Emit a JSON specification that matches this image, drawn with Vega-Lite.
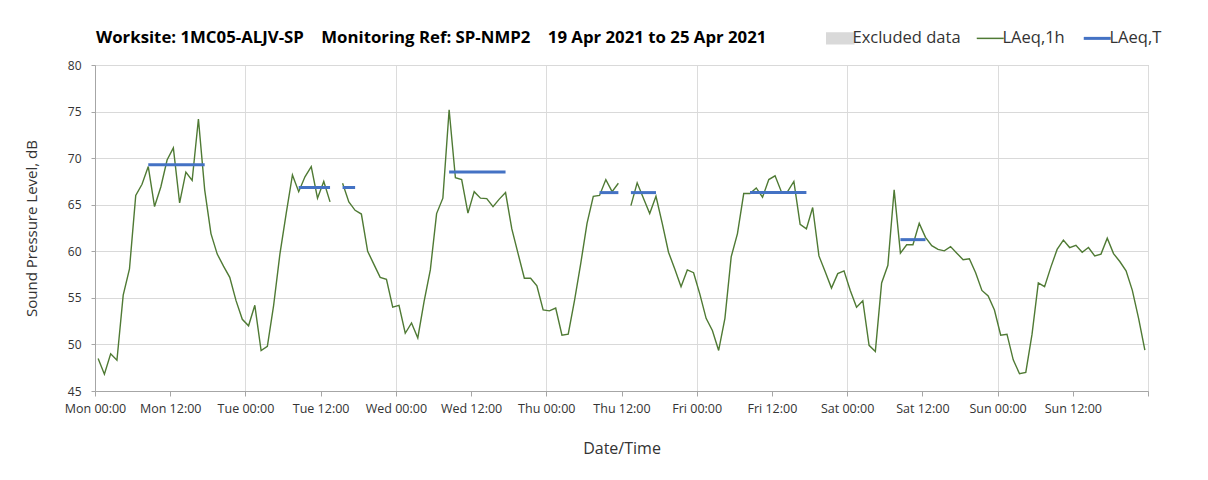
{
  "$schema": "https://vega.github.io/schema/vega-lite/v6.json",
  "autosize": "none",
  "width": 1053,
  "height": 326,
  "padding": {"left": 95, "top": 65, "right": 60, "bottom": 89},
  "background": "white",
  "config": {
    "font": "Open Sans",
    "view": {"stroke": "#bfbfbf", "strokeWidth": 1},
    "axis": {"labelFont": "Open Sans", "titleFont": "Open Sans", "labelColor": "#333333", "titleColor": "#333333", "titleFontWeight": "normal"}
  },
  "title": {
    "text": "Worksite: 1MC05-ALJV-SP\u00a0\u00a0\u00a0 Monitoring Ref: SP-NMP2\u00a0\u00a0\u00a0 19 Apr 2021 to 25 Apr 2021",
    "anchor": "start",
    "frame": "group",
    "offset": 0,
    "baseline": "alphabetic",
    "dy": 30,
    "dx": 1,
    "font": "Open Sans",
    "fontSize": 16.8,
    "fontWeight": "bold",
    "color": "#000000"
  },
  "datasets": {
    "lh": [
      {"t":"2021-04-19T00:30:00","v":48.5,"g":1,"s":"LAeq,1h"},
      {"t":"2021-04-19T01:30:00","v":46.8,"g":1,"s":"LAeq,1h"},
      {"t":"2021-04-19T02:30:00","v":49.0,"g":1,"s":"LAeq,1h"},
      {"t":"2021-04-19T03:30:00","v":48.3,"g":1,"s":"LAeq,1h"},
      {"t":"2021-04-19T04:30:00","v":55.3,"g":1,"s":"LAeq,1h"},
      {"t":"2021-04-19T05:30:00","v":58.1,"g":1,"s":"LAeq,1h"},
      {"t":"2021-04-19T06:30:00","v":66.0,"g":1,"s":"LAeq,1h"},
      {"t":"2021-04-19T07:30:00","v":67.2,"g":1,"s":"LAeq,1h"},
      {"t":"2021-04-19T08:30:00","v":69.1,"g":1,"s":"LAeq,1h"},
      {"t":"2021-04-19T09:30:00","v":64.8,"g":1,"s":"LAeq,1h"},
      {"t":"2021-04-19T10:30:00","v":66.9,"g":1,"s":"LAeq,1h"},
      {"t":"2021-04-19T11:30:00","v":69.8,"g":1,"s":"LAeq,1h"},
      {"t":"2021-04-19T12:30:00","v":71.1,"g":1,"s":"LAeq,1h"},
      {"t":"2021-04-19T13:30:00","v":65.2,"g":1,"s":"LAeq,1h"},
      {"t":"2021-04-19T14:30:00","v":68.5,"g":1,"s":"LAeq,1h"},
      {"t":"2021-04-19T15:30:00","v":67.6,"g":1,"s":"LAeq,1h"},
      {"t":"2021-04-19T16:30:00","v":74.2,"g":1,"s":"LAeq,1h"},
      {"t":"2021-04-19T17:30:00","v":66.6,"g":1,"s":"LAeq,1h"},
      {"t":"2021-04-19T18:30:00","v":61.9,"g":1,"s":"LAeq,1h"},
      {"t":"2021-04-19T19:30:00","v":59.7,"g":1,"s":"LAeq,1h"},
      {"t":"2021-04-19T20:30:00","v":58.4,"g":1,"s":"LAeq,1h"},
      {"t":"2021-04-19T21:30:00","v":57.2,"g":1,"s":"LAeq,1h"},
      {"t":"2021-04-19T22:30:00","v":54.7,"g":1,"s":"LAeq,1h"},
      {"t":"2021-04-19T23:30:00","v":52.7,"g":1,"s":"LAeq,1h"},
      {"t":"2021-04-20T00:30:00","v":52.0,"g":1,"s":"LAeq,1h"},
      {"t":"2021-04-20T01:30:00","v":54.2,"g":1,"s":"LAeq,1h"},
      {"t":"2021-04-20T02:30:00","v":49.35,"g":1,"s":"LAeq,1h"},
      {"t":"2021-04-20T03:30:00","v":49.8,"g":1,"s":"LAeq,1h"},
      {"t":"2021-04-20T04:30:00","v":54.2,"g":1,"s":"LAeq,1h"},
      {"t":"2021-04-20T05:30:00","v":59.7,"g":1,"s":"LAeq,1h"},
      {"t":"2021-04-20T06:30:00","v":64.05,"g":1,"s":"LAeq,1h"},
      {"t":"2021-04-20T07:30:00","v":68.2,"g":1,"s":"LAeq,1h"},
      {"t":"2021-04-20T08:30:00","v":66.4,"g":1,"s":"LAeq,1h"},
      {"t":"2021-04-20T09:30:00","v":68.0,"g":1,"s":"LAeq,1h"},
      {"t":"2021-04-20T10:30:00","v":69.1,"g":1,"s":"LAeq,1h"},
      {"t":"2021-04-20T11:30:00","v":65.7,"g":1,"s":"LAeq,1h"},
      {"t":"2021-04-20T12:30:00","v":67.5,"g":1,"s":"LAeq,1h"},
      {"t":"2021-04-20T13:30:00","v":65.3,"g":1,"s":"LAeq,1h"},
      {"t":"2021-04-20T15:30:00","v":67.3,"g":2,"s":"LAeq,1h"},
      {"t":"2021-04-20T16:30:00","v":65.3,"g":2,"s":"LAeq,1h"},
      {"t":"2021-04-20T17:30:00","v":64.4,"g":2,"s":"LAeq,1h"},
      {"t":"2021-04-20T18:30:00","v":64.0,"g":2,"s":"LAeq,1h"},
      {"t":"2021-04-20T19:30:00","v":60.0,"g":2,"s":"LAeq,1h"},
      {"t":"2021-04-20T20:30:00","v":58.6,"g":2,"s":"LAeq,1h"},
      {"t":"2021-04-20T21:30:00","v":57.2,"g":2,"s":"LAeq,1h"},
      {"t":"2021-04-20T22:30:00","v":57.0,"g":2,"s":"LAeq,1h"},
      {"t":"2021-04-20T23:30:00","v":54.0,"g":2,"s":"LAeq,1h"},
      {"t":"2021-04-21T00:30:00","v":54.2,"g":2,"s":"LAeq,1h"},
      {"t":"2021-04-21T01:30:00","v":51.2,"g":2,"s":"LAeq,1h"},
      {"t":"2021-04-21T02:30:00","v":52.3,"g":2,"s":"LAeq,1h"},
      {"t":"2021-04-21T03:30:00","v":50.7,"g":2,"s":"LAeq,1h"},
      {"t":"2021-04-21T04:30:00","v":54.6,"g":2,"s":"LAeq,1h"},
      {"t":"2021-04-21T05:30:00","v":58.0,"g":2,"s":"LAeq,1h"},
      {"t":"2021-04-21T06:30:00","v":64.05,"g":2,"s":"LAeq,1h"},
      {"t":"2021-04-21T07:30:00","v":65.7,"g":2,"s":"LAeq,1h"},
      {"t":"2021-04-21T08:30:00","v":75.2,"g":2,"s":"LAeq,1h"},
      {"t":"2021-04-21T09:30:00","v":67.9,"g":2,"s":"LAeq,1h"},
      {"t":"2021-04-21T10:30:00","v":67.7,"g":2,"s":"LAeq,1h"},
      {"t":"2021-04-21T11:30:00","v":64.1,"g":2,"s":"LAeq,1h"},
      {"t":"2021-04-21T12:30:00","v":66.4,"g":2,"s":"LAeq,1h"},
      {"t":"2021-04-21T13:30:00","v":65.7,"g":2,"s":"LAeq,1h"},
      {"t":"2021-04-21T14:30:00","v":65.65,"g":2,"s":"LAeq,1h"},
      {"t":"2021-04-21T15:30:00","v":64.8,"g":2,"s":"LAeq,1h"},
      {"t":"2021-04-21T16:30:00","v":65.6,"g":2,"s":"LAeq,1h"},
      {"t":"2021-04-21T17:30:00","v":66.3,"g":2,"s":"LAeq,1h"},
      {"t":"2021-04-21T18:30:00","v":62.4,"g":2,"s":"LAeq,1h"},
      {"t":"2021-04-21T19:30:00","v":59.75,"g":2,"s":"LAeq,1h"},
      {"t":"2021-04-21T20:30:00","v":57.1,"g":2,"s":"LAeq,1h"},
      {"t":"2021-04-21T21:30:00","v":57.1,"g":2,"s":"LAeq,1h"},
      {"t":"2021-04-21T22:30:00","v":56.3,"g":2,"s":"LAeq,1h"},
      {"t":"2021-04-21T23:30:00","v":53.7,"g":2,"s":"LAeq,1h"},
      {"t":"2021-04-22T00:30:00","v":53.6,"g":2,"s":"LAeq,1h"},
      {"t":"2021-04-22T01:30:00","v":53.9,"g":2,"s":"LAeq,1h"},
      {"t":"2021-04-22T02:30:00","v":51.0,"g":2,"s":"LAeq,1h"},
      {"t":"2021-04-22T03:30:00","v":51.1,"g":2,"s":"LAeq,1h"},
      {"t":"2021-04-22T04:30:00","v":54.7,"g":2,"s":"LAeq,1h"},
      {"t":"2021-04-22T05:30:00","v":58.7,"g":2,"s":"LAeq,1h"},
      {"t":"2021-04-22T06:30:00","v":63.0,"g":2,"s":"LAeq,1h"},
      {"t":"2021-04-22T07:30:00","v":65.9,"g":2,"s":"LAeq,1h"},
      {"t":"2021-04-22T08:30:00","v":66.0,"g":2,"s":"LAeq,1h"},
      {"t":"2021-04-22T09:30:00","v":67.7,"g":2,"s":"LAeq,1h"},
      {"t":"2021-04-22T10:30:00","v":66.4,"g":2,"s":"LAeq,1h"},
      {"t":"2021-04-22T11:30:00","v":67.3,"g":2,"s":"LAeq,1h"},
      {"t":"2021-04-22T13:30:00","v":64.9,"g":3,"s":"LAeq,1h"},
      {"t":"2021-04-22T14:30:00","v":67.35,"g":3,"s":"LAeq,1h"},
      {"t":"2021-04-22T15:30:00","v":65.7,"g":3,"s":"LAeq,1h"},
      {"t":"2021-04-22T16:30:00","v":64.05,"g":3,"s":"LAeq,1h"},
      {"t":"2021-04-22T17:30:00","v":65.9,"g":3,"s":"LAeq,1h"},
      {"t":"2021-04-22T18:30:00","v":63.0,"g":3,"s":"LAeq,1h"},
      {"t":"2021-04-22T19:30:00","v":59.9,"g":3,"s":"LAeq,1h"},
      {"t":"2021-04-22T20:30:00","v":58.1,"g":3,"s":"LAeq,1h"},
      {"t":"2021-04-22T21:30:00","v":56.2,"g":3,"s":"LAeq,1h"},
      {"t":"2021-04-22T22:30:00","v":58.0,"g":3,"s":"LAeq,1h"},
      {"t":"2021-04-22T23:30:00","v":57.7,"g":3,"s":"LAeq,1h"},
      {"t":"2021-04-23T00:30:00","v":55.4,"g":3,"s":"LAeq,1h"},
      {"t":"2021-04-23T01:30:00","v":52.8,"g":3,"s":"LAeq,1h"},
      {"t":"2021-04-23T02:30:00","v":51.5,"g":3,"s":"LAeq,1h"},
      {"t":"2021-04-23T03:30:00","v":49.35,"g":3,"s":"LAeq,1h"},
      {"t":"2021-04-23T04:30:00","v":52.8,"g":3,"s":"LAeq,1h"},
      {"t":"2021-04-23T05:30:00","v":59.4,"g":3,"s":"LAeq,1h"},
      {"t":"2021-04-23T06:30:00","v":61.9,"g":3,"s":"LAeq,1h"},
      {"t":"2021-04-23T07:30:00","v":66.2,"g":3,"s":"LAeq,1h"},
      {"t":"2021-04-23T08:30:00","v":66.2,"g":3,"s":"LAeq,1h"},
      {"t":"2021-04-23T09:30:00","v":66.8,"g":3,"s":"LAeq,1h"},
      {"t":"2021-04-23T10:30:00","v":65.8,"g":3,"s":"LAeq,1h"},
      {"t":"2021-04-23T11:30:00","v":67.7,"g":3,"s":"LAeq,1h"},
      {"t":"2021-04-23T12:30:00","v":68.1,"g":3,"s":"LAeq,1h"},
      {"t":"2021-04-23T13:30:00","v":66.4,"g":3,"s":"LAeq,1h"},
      {"t":"2021-04-23T14:30:00","v":66.4,"g":3,"s":"LAeq,1h"},
      {"t":"2021-04-23T15:30:00","v":67.5,"g":3,"s":"LAeq,1h"},
      {"t":"2021-04-23T16:30:00","v":62.9,"g":3,"s":"LAeq,1h"},
      {"t":"2021-04-23T17:30:00","v":62.4,"g":3,"s":"LAeq,1h"},
      {"t":"2021-04-23T18:30:00","v":64.7,"g":3,"s":"LAeq,1h"},
      {"t":"2021-04-23T19:30:00","v":59.5,"g":3,"s":"LAeq,1h"},
      {"t":"2021-04-23T20:30:00","v":57.8,"g":3,"s":"LAeq,1h"},
      {"t":"2021-04-23T21:30:00","v":56.05,"g":3,"s":"LAeq,1h"},
      {"t":"2021-04-23T22:30:00","v":57.6,"g":3,"s":"LAeq,1h"},
      {"t":"2021-04-23T23:30:00","v":57.9,"g":3,"s":"LAeq,1h"},
      {"t":"2021-04-24T00:30:00","v":55.8,"g":3,"s":"LAeq,1h"},
      {"t":"2021-04-24T01:30:00","v":54.0,"g":3,"s":"LAeq,1h"},
      {"t":"2021-04-24T02:30:00","v":54.7,"g":3,"s":"LAeq,1h"},
      {"t":"2021-04-24T03:30:00","v":49.9,"g":3,"s":"LAeq,1h"},
      {"t":"2021-04-24T04:30:00","v":49.25,"g":3,"s":"LAeq,1h"},
      {"t":"2021-04-24T05:30:00","v":56.6,"g":3,"s":"LAeq,1h"},
      {"t":"2021-04-24T06:30:00","v":58.5,"g":3,"s":"LAeq,1h"},
      {"t":"2021-04-24T07:30:00","v":66.6,"g":3,"s":"LAeq,1h"},
      {"t":"2021-04-24T08:30:00","v":59.8,"g":3,"s":"LAeq,1h"},
      {"t":"2021-04-24T09:30:00","v":60.7,"g":3,"s":"LAeq,1h"},
      {"t":"2021-04-24T10:30:00","v":60.7,"g":3,"s":"LAeq,1h"},
      {"t":"2021-04-24T11:30:00","v":63.0,"g":3,"s":"LAeq,1h"},
      {"t":"2021-04-24T12:30:00","v":61.5,"g":3,"s":"LAeq,1h"},
      {"t":"2021-04-24T13:30:00","v":60.6,"g":3,"s":"LAeq,1h"},
      {"t":"2021-04-24T14:30:00","v":60.2,"g":3,"s":"LAeq,1h"},
      {"t":"2021-04-24T15:30:00","v":60.05,"g":3,"s":"LAeq,1h"},
      {"t":"2021-04-24T16:30:00","v":60.5,"g":3,"s":"LAeq,1h"},
      {"t":"2021-04-24T17:30:00","v":59.8,"g":3,"s":"LAeq,1h"},
      {"t":"2021-04-24T18:30:00","v":59.1,"g":3,"s":"LAeq,1h"},
      {"t":"2021-04-24T19:30:00","v":59.2,"g":3,"s":"LAeq,1h"},
      {"t":"2021-04-24T20:30:00","v":57.7,"g":3,"s":"LAeq,1h"},
      {"t":"2021-04-24T21:30:00","v":55.8,"g":3,"s":"LAeq,1h"},
      {"t":"2021-04-24T22:30:00","v":55.2,"g":3,"s":"LAeq,1h"},
      {"t":"2021-04-24T23:30:00","v":53.7,"g":3,"s":"LAeq,1h"},
      {"t":"2021-04-25T00:30:00","v":51.0,"g":3,"s":"LAeq,1h"},
      {"t":"2021-04-25T01:30:00","v":51.1,"g":3,"s":"LAeq,1h"},
      {"t":"2021-04-25T02:30:00","v":48.35,"g":3,"s":"LAeq,1h"},
      {"t":"2021-04-25T03:30:00","v":46.85,"g":3,"s":"LAeq,1h"},
      {"t":"2021-04-25T04:30:00","v":47.0,"g":3,"s":"LAeq,1h"},
      {"t":"2021-04-25T05:30:00","v":51.1,"g":3,"s":"LAeq,1h"},
      {"t":"2021-04-25T06:30:00","v":56.6,"g":3,"s":"LAeq,1h"},
      {"t":"2021-04-25T07:30:00","v":56.2,"g":3,"s":"LAeq,1h"},
      {"t":"2021-04-25T08:30:00","v":58.3,"g":3,"s":"LAeq,1h"},
      {"t":"2021-04-25T09:30:00","v":60.2,"g":3,"s":"LAeq,1h"},
      {"t":"2021-04-25T10:30:00","v":61.2,"g":3,"s":"LAeq,1h"},
      {"t":"2021-04-25T11:30:00","v":60.4,"g":3,"s":"LAeq,1h"},
      {"t":"2021-04-25T12:30:00","v":60.65,"g":3,"s":"LAeq,1h"},
      {"t":"2021-04-25T13:30:00","v":59.9,"g":3,"s":"LAeq,1h"},
      {"t":"2021-04-25T14:30:00","v":60.4,"g":3,"s":"LAeq,1h"},
      {"t":"2021-04-25T15:30:00","v":59.5,"g":3,"s":"LAeq,1h"},
      {"t":"2021-04-25T16:30:00","v":59.7,"g":3,"s":"LAeq,1h"},
      {"t":"2021-04-25T17:30:00","v":61.4,"g":3,"s":"LAeq,1h"},
      {"t":"2021-04-25T18:30:00","v":59.75,"g":3,"s":"LAeq,1h"},
      {"t":"2021-04-25T19:30:00","v":58.9,"g":3,"s":"LAeq,1h"},
      {"t":"2021-04-25T20:30:00","v":57.9,"g":3,"s":"LAeq,1h"},
      {"t":"2021-04-25T21:30:00","v":55.8,"g":3,"s":"LAeq,1h"},
      {"t":"2021-04-25T22:30:00","v":52.8,"g":3,"s":"LAeq,1h"},
      {"t":"2021-04-25T23:30:00","v":49.4,"g":3,"s":"LAeq,1h"}
    ],
    "lt": [
      {"t":"2021-04-19T08:30:00","v":69.3,"g":1,"s":"LAeq,T"},
      {"t":"2021-04-19T17:30:00","v":69.3,"g":1,"s":"LAeq,T"},
      {"t":"2021-04-20T08:30:00","v":66.85,"g":2,"s":"LAeq,T"},
      {"t":"2021-04-20T13:30:00","v":66.85,"g":2,"s":"LAeq,T"},
      {"t":"2021-04-20T15:30:00","v":66.85,"g":3,"s":"LAeq,T"},
      {"t":"2021-04-20T17:30:00","v":66.85,"g":3,"s":"LAeq,T"},
      {"t":"2021-04-21T08:30:00","v":68.5,"g":4,"s":"LAeq,T"},
      {"t":"2021-04-21T17:30:00","v":68.5,"g":4,"s":"LAeq,T"},
      {"t":"2021-04-22T08:30:00","v":66.3,"g":5,"s":"LAeq,T"},
      {"t":"2021-04-22T11:30:00","v":66.3,"g":5,"s":"LAeq,T"},
      {"t":"2021-04-22T13:30:00","v":66.3,"g":6,"s":"LAeq,T"},
      {"t":"2021-04-22T17:30:00","v":66.3,"g":6,"s":"LAeq,T"},
      {"t":"2021-04-23T08:30:00","v":66.3,"g":7,"s":"LAeq,T"},
      {"t":"2021-04-23T17:30:00","v":66.3,"g":7,"s":"LAeq,T"},
      {"t":"2021-04-24T08:30:00","v":61.25,"g":8,"s":"LAeq,T"},
      {"t":"2021-04-24T12:30:00","v":61.25,"g":8,"s":"LAeq,T"}
    ]
  },
  "encoding": {
    "x": {
      "field": "t",
      "type": "temporal",
      "scale": {"domain": [{"year": 2021, "month": 4, "date": 19, "hours": 0}, {"year": 2021, "month": 4, "date": 26, "hours": 0}]},
      "axis": {
        "title": "Date/Time",
        "titleFontSize": 16,
        "titlePadding": 26,
        "format": "%a %H:%M",
        "labelFontSize": 12.5,
        "labelPadding": 6,
        "labelFlush": false,
        "labelOverlap": false,
        "labelExpr": "datum.value >= datetime(2021, 3, 26, 0, 0) ? '' : datum.label",
        "values": [
          {"year": 2021, "month": 4, "date": 19, "hours": 0},
          {"year": 2021, "month": 4, "date": 19, "hours": 12},
          {"year": 2021, "month": 4, "date": 20, "hours": 0},
          {"year": 2021, "month": 4, "date": 20, "hours": 12},
          {"year": 2021, "month": 4, "date": 21, "hours": 0},
          {"year": 2021, "month": 4, "date": 21, "hours": 12},
          {"year": 2021, "month": 4, "date": 22, "hours": 0},
          {"year": 2021, "month": 4, "date": 22, "hours": 12},
          {"year": 2021, "month": 4, "date": 23, "hours": 0},
          {"year": 2021, "month": 4, "date": 23, "hours": 12},
          {"year": 2021, "month": 4, "date": 24, "hours": 0},
          {"year": 2021, "month": 4, "date": 24, "hours": 12},
          {"year": 2021, "month": 4, "date": 25, "hours": 0},
          {"year": 2021, "month": 4, "date": 25, "hours": 12},
          {"year": 2021, "month": 4, "date": 26, "hours": 0}
        ],
        "gridColor": "#dcdcdc",
        "gridOpacity": {"condition": {"test": "hours(datum.value) === 0", "value": 1}, "value": 0},
        "domainColor": "#a6a6a6",
        "tickColor": "#a6a6a6",
        "tickSize": 5
      }
    },
    "y": {
      "field": "v",
      "type": "quantitative",
      "scale": {"domain": [45, 80], "nice": false, "zero": false},
      "axis": {
        "title": "Sound Pressure Level, dB",
        "titleFontSize": 15,
        "titlePadding": 28,
        "values": [45, 50, 55, 60, 65, 70, 75, 80],
        "labelFontSize": 12,
        "labelPadding": 10,
        "gridColor": "#d9d9d9",
        "domainColor": "#a6a6a6",
        "tickColor": "#a6a6a6",
        "tickSize": 4
      }
    },
    "color": {
      "field": "s",
      "type": "nominal",
      "scale": {"domain": ["Excluded data", "LAeq,1h", "LAeq,T"], "range": ["#d9d9d9", "#4f7a34", "#4472c4"]},
      "legend": {
        "title": null,
        "orient": "none",
        "legendX": 737,
        "legendY": -35,
        "direction": "horizontal",
        "symbolType": "stroke",
        "symbolSize": 729,
        "labelFont": "Open Sans",
        "labelFontSize": 16.5,
        "labelColor": "#333333",
        "labelLimit": 300,
        "columnPadding": 12,
        "labelOffset": 4,
        "encode": {
          "symbols": {
            "update": {
              "shape": {"signal": "datum.value === 'Excluded data' ? 'M-1,-0.4H1V0.4H-1Z' : 'stroke'"},
              "fill": {"signal": "datum.value === 'Excluded data' ? '#d9d9d9' : 'transparent'"},
              "stroke": {"signal": "datum.value === 'Excluded data' ? 'transparent' : (datum.value === 'LAeq,T' ? '#4472c4' : '#4f7a34')"},
              "size": {"value": 729},
              "strokeWidth": {"signal": "datum.value === 'LAeq,T' ? 3 : 1.5"},
              "opacity": {"value": 1}
            }
          }
        }
      }
    },
    "detail": {"field": "g", "type": "nominal"}
  },
  "layer": [
    {"data": {"name": "lh"}, "mark": {"type": "line", "strokeWidth": 1.4, "interpolate": "linear"}},
    {"data": {"name": "lt"}, "mark": {"type": "line", "strokeWidth": 3}}
  ]
}
